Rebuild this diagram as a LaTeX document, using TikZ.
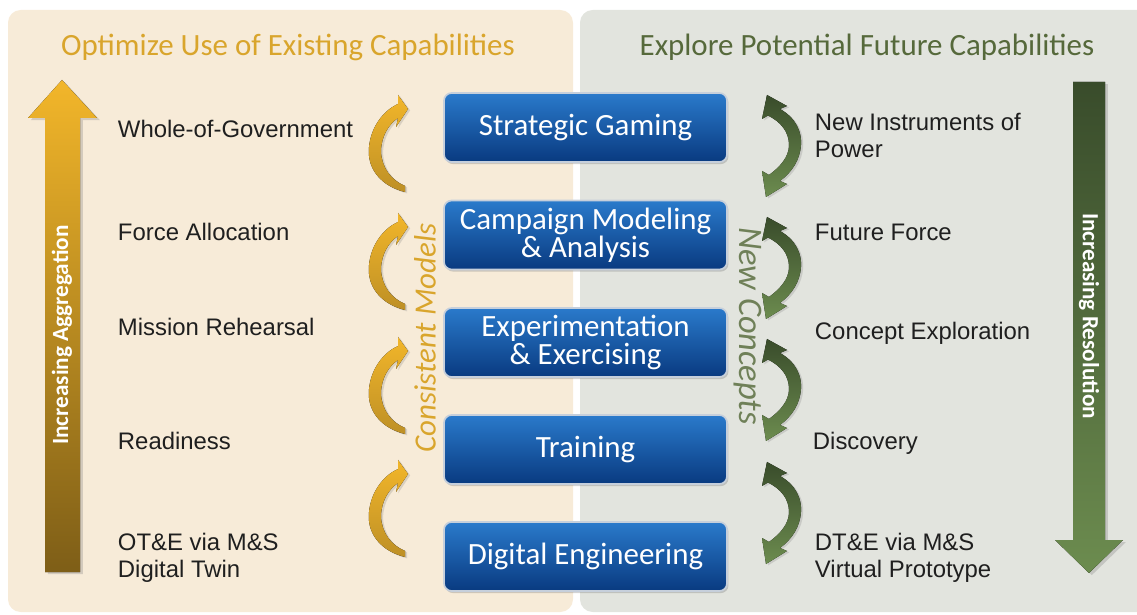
\documentclass[tikz,border=0pt]{standalone}
\usepackage{fontspec}
\setmainfont{Liberation Sans}
\newfontfamily\calib{Carlito}
\usetikzlibrary{shadows}
\usetikzlibrary{positioning}

\definecolor{cream}{HTML}{F7EBD8}
\definecolor{sage}{HTML}{E2E4DE}
\definecolor{gold}{HTML}{D9A52C}
\definecolor{goldlight}{HTML}{F2B62A}
\definecolor{golddark}{HTML}{7E5E17}
\definecolor{olive}{HTML}{56693B}
\definecolor{olivedark}{HTML}{394C2B}
\definecolor{olivelight}{HTML}{6C8C4F}
\definecolor{boxtop}{HTML}{2A7ACB}
\definecolor{boxbot}{HTML}{093A80}
\definecolor{boxrim}{HTML}{C6CFDB}

\tikzset{
  level/.style={rounded corners=5.5pt, minimum width=7.075cm, minimum height=1.725cm,
    top color=boxtop, bottom color=boxbot, draw=boxrim, line width=1.2pt,
    text=white, align=center, font=\calib\fontsize{22}{20}\selectfont,
    drop shadow={opacity=0.35, shadow xshift=1pt, shadow yshift=-1.5pt}},
  lbl/.style={anchor=west, align=left, text=black!88, font=\fontsize{17}{19.2}\selectfont},
  title/.style={font=\calib\fontsize{22}{24}\selectfont},
  bigtext/.style={text=white, font=\calib\bfseries\fontsize{16.5}{18}\selectfont},
  side/.style={font=\calib\itshape\fontsize{22}{24}\selectfont},
}

% gold curl, opens to the right, head at the top
\newcommand\goldcurl[1]{%
  \begin{scope}[shift={(0,#1)}]
    \fill[top color=goldlight, bottom color=gold!70!golddark,
          drop shadow={opacity=0.25, shadow xshift=1.5pt, shadow yshift=-1pt}]
      (398,104) .. controls (380,112) and (367,134) .. (369,156)
      .. controls (371,174) and (385,187) .. (405,192) -- (405,186)
      .. controls (391,180) and (382,168) .. (381,152)
      .. controls (381,136) and (389,124) .. (398,118)
      -- (396,127) -- (408,109) -- (398,95) -- cycle;
  \end{scope}}

% green curl, opens to the left, heads at both ends
\newcommand\greencurl[1]{%
  \begin{scope}[shift={(0,#1)}]
    \fill[top color=olivedark, bottom color=olivelight,
          drop shadow={opacity=0.25, shadow xshift=1.5pt, shadow yshift=-1pt}]
      (767,95) -- (787,106) -- (780,109)
      .. controls (796,118) and (802,132) .. (801,145)
      .. controls (800,160) and (792,172) .. (780,181)
      -- (787,184) -- (766,197) -- (762,171) -- (769,175)
      .. controls (780,167) and (789,157) .. (789,145)
      .. controls (789,132) and (781,122) .. (768,115.5)
      -- (762,119) -- cycle;
  \end{scope}}

\begin{document}
\begin{tikzpicture}[x=0.025cm,y=-0.025cm]
\useasboundingbox (0,0) rectangle (1137,615);
\clip (0,0) rectangle (1137,615);

% two halves
\fill[cream,rounded corners=9pt] (8,10) rectangle (573,612);
\fill[sage,rounded corners=9pt] (580,10) rectangle (1160,612);

\node[title,text=gold] (optimize) at (288,47) {Optimize Use of Existing Capabilities};
\node[title,text=olive] (explore) at (867,47) {Explore Potential Future Capabilities};

% aggregation arrow
\fill[top color=goldlight, bottom color=golddark,
      drop shadow={opacity=0.3, shadow xshift=2pt, shadow yshift=-1.5pt}]
  (45,572) -- (45,118) -- (28,118) -- (62,80) -- (97,118) -- (80,118) -- (80,572) -- cycle;
\node[bigtext,rotate=90] (aggr) at (62,335) {Increasing Aggregation};

% resolution arrow
\fill[top color=olivedark, bottom color=olivelight,
      drop shadow={opacity=0.3, shadow xshift=2pt, shadow yshift=-1.5pt}]
  (1073,82) -- (1073,540) -- (1055,540) -- (1089,573) -- (1123,540) -- (1105,540) -- (1105,82) -- cycle;
\node[bigtext,rotate=-90] (resol) at (1089,316) {Increasing Resolution};

% levels
\node[level] (gaming) at (585.5,127.5) {Strategic Gaming};
\node[level] (campaign) at (585.5,235) {Campaign Modeling\\\& Analysis};
\node[level] (experim) at (585.5,342.5) {Experimentation\\\& Exercising};
\node[level] (training) at (585.5,449.5) {Training};
\node[level] (digital) at (585.5,556.5) {Digital Engineering};

\goldcurl{0}
\goldcurl{118}
\goldcurl{242}
\goldcurl{365}

\greencurl{0}
\greencurl{122}
\greencurl{244}
\greencurl{367}

\node[side,text=gold,rotate=90] (consist) at (425,338) {Consistent Models};
\node[side,text=olive!85!white,rotate=-90,font=\calib\itshape\fontsize{24.5}{26}\selectfont] (concepts) at (748,326) {New Concepts};

% left labels
\node[lbl] (wog) at (113,129) {Whole-of-Government};
\node[lbl] (force) at (113,232) {Force Allocation};
\node[lbl] (mission) at (113,327) {Mission Rehearsal};
\node[lbl] (ready) at (113,441) {Readiness};
\node[lbl] (ote) at (113,558) {OT\&E via M\&S\\Digital Twin};

% right labels
\node[lbl] (instr) at (810,135) {New Instruments of\\Power};
\node[lbl] (future) at (810,232) {Future Force};
\node[lbl] (explor) at (810,333) {Concept Exploration};
\node[lbl] (discov) at (808,443) {Discovery};
\node[lbl] (dte) at (810,558) {DT\&E via M\&S\\Virtual Prototype};

\end{tikzpicture}
\end{document}
